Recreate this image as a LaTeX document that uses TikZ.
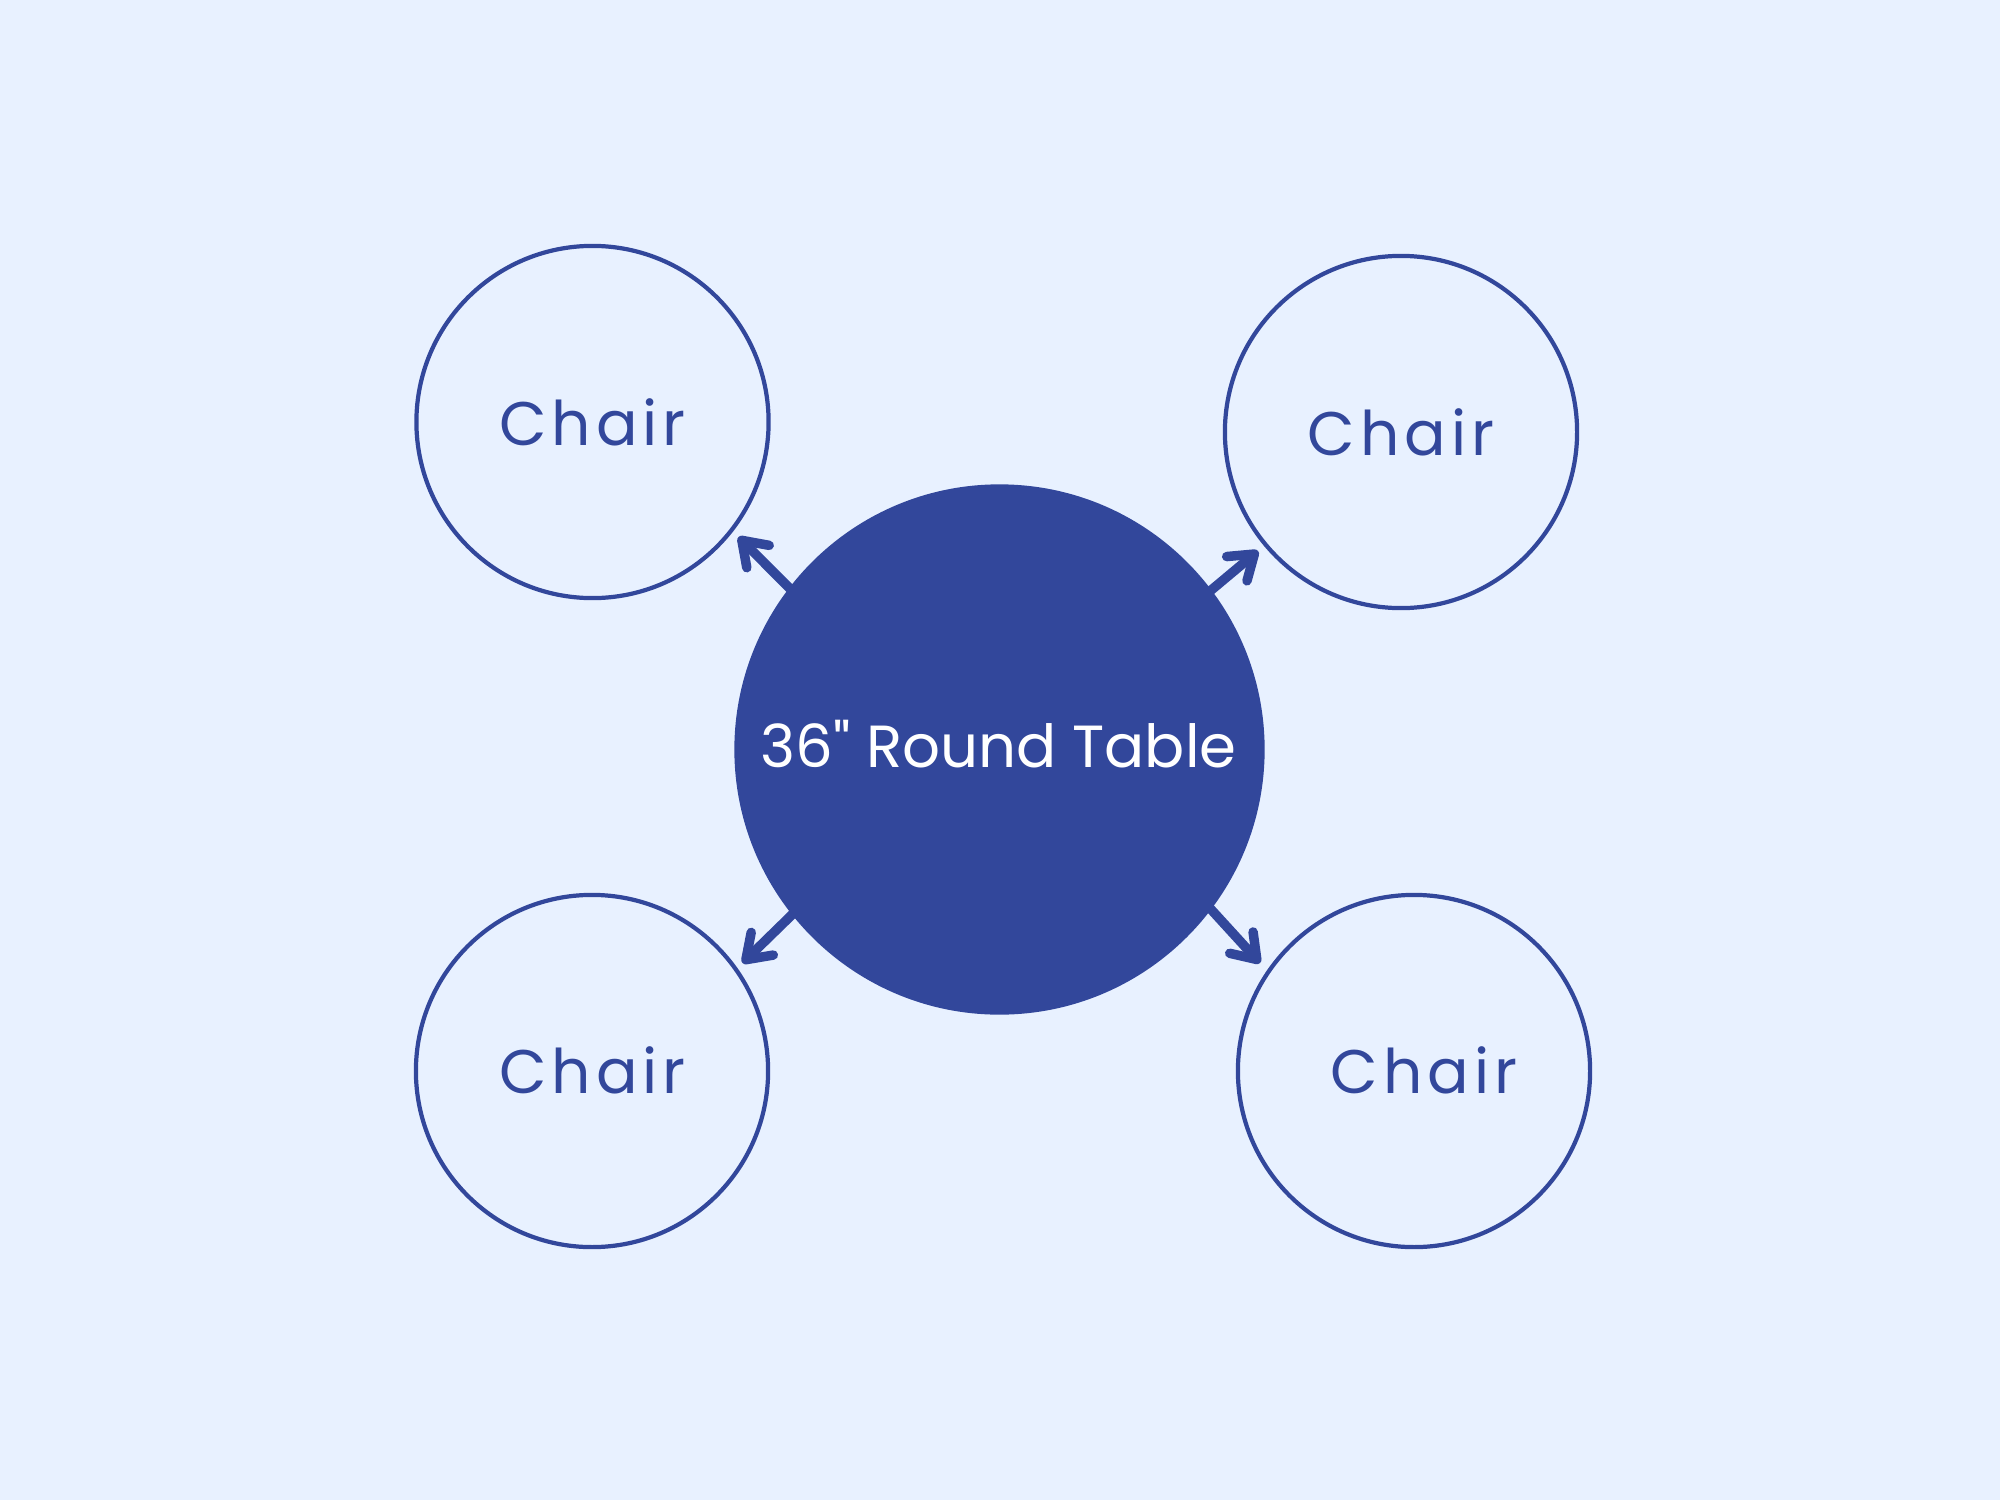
\documentclass[tikz,border=0pt]{standalone}
\usepackage{fontspec}
\setmainfont{Poppins}
\newfontfamily\chairfont[LetterSpace=8]{Poppins}
\newfontfamily\tablefont[Ligatures=TeXOff]{Poppins}
\usetikzlibrary{arrows.meta}
\definecolor{bg}{RGB}{232,241,255}
\definecolor{navy}{RGB}{50,71,155}
\tikzset{
  chairnode/.style={circle, draw=navy, line width=1.2pt, minimum size=3.52cm, inner sep=0pt},
  chairtext/.style={anchor=base, text=navy, font=\chairfont\fontsize{17.5pt}{21pt}\selectfont, inner sep=0pt},
  tablenode/.style={circle, fill=navy, minimum size=5.3cm, inner sep=0pt},
  tabletext/.style={anchor=base, text=white, font=\tablefont\fontsize{16.9pt}{20pt}\selectfont, inner sep=0pt},
  arr/.style={draw=navy, line width=2.7pt, line cap=round, line join=round,
    -{Straight Barb[length=6.5pt, width=9pt, line cap=round, line join=round]}}
}
\begin{document}
\begin{tikzpicture}[x=0.01cm, y=-0.01cm]
\fill[bg] (0,0) rectangle (2000,1500);
\useasboundingbox (0,0) rectangle (2000,1500);
% arrow end points
\coordinate (tl-tail) at (800,598.6);
\coordinate (tl-tip) at (738.5,537);
\coordinate (tr-tail) at (1191,607);
\coordinate (tr-tip) at (1258,551);
\coordinate (bl-tail) at (805,902);
\coordinate (bl-tip) at (742.5,963);
\coordinate (br-tail) at (1201,898.4);
\coordinate (br-tip) at (1260,963);
\draw[arr] (tl-tail) -- (tl-tip);
\draw[arr] (tr-tail) -- (tr-tip);
\draw[arr] (bl-tail) -- (bl-tip);
\draw[arr] (br-tail) -- (br-tip);
% table
\node[tablenode] (table) at (999.5,749.5) {};
\node[tabletext] (tablelabel) at (998.5,767.6) {36" Round Table};
% chairs
\node[chairnode] (c1) at (592.5,422) {};
\node[chairnode] (c2) at (1401,432) {};
\node[chairnode] (c3) at (592,1071) {};
\node[chairnode] (c4) at (1414,1071) {};
\node[chairtext] (c1t) at (592.5,445) {Chair};
\node[chairtext] (c2t) at (1401,455) {Chair};
\node[chairtext] (c3t) at (592.5,1093) {Chair};
\node[chairtext] (c4t) at (1424,1093) {Chair};
\end{tikzpicture}
\end{document}
